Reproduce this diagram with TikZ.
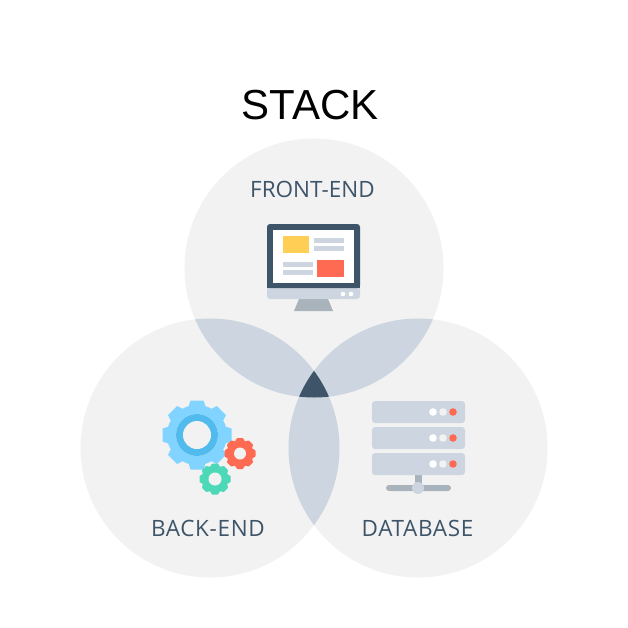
\documentclass[tikz,border=0pt]{standalone}
\usepackage{fontspec}
\setmainfont{Liberation Sans}
\newfontfamily\labelfont{Open Sans}
\definecolor{circlegray}{HTML}{F2F2F2}
\definecolor{lensblue}{HTML}{CDD6E0}
\definecolor{darkslate}{HTML}{3E5569}
\definecolor{standgray}{HTML}{A9B3BB}
\definecolor{alarmred}{HTML}{FF6B52}
\definecolor{notepad}{HTML}{FFCE54}
\definecolor{gearblue}{HTML}{80D4FF}
\definecolor{ringblue}{HTML}{50BBEC}
\definecolor{geargreen}{HTML}{4DD9B8}
\newcommand{\gear}[7]{% x, y, colour, root, outer, tooth half width, hole
  \fill[#3] (#1,#2) circle (#4);
  \foreach \a in {0,45,...,315}
    \fill[#3,shift={(#1,#2)},rotate=\a] (-#6-1.5,0) -- (-#6-1.5,#4) -- (-#6,#5) -- (#6,#5) -- (#6+1.5,#4) -- (#6+1.5,0) -- cycle;
  \fill[circlegray] (#1,#2) circle (#7);
}
\begin{document}
\begin{tikzpicture}[x=1pt,y=-1pt,
    title/.style={font=\fontsize{42}{42}\selectfont,text=black},
    caption/.style={font=\labelfont\fontsize{22.5}{22.5}\selectfont,text=darkslate},
    widecaption/.style={caption,font=\labelfont\fontsize{22.5}{22.5}\selectfont\addfontfeature{LetterSpace=3}},
    bar/.style={fill=lensblue}]
  \useasboundingbox (0,0) rectangle (627,628);

  % the three circles
  \fill[circlegray] (314,268) circle (129.5);
  \fill[circlegray] (210,448) circle (129.5);
  \fill[circlegray] (418,448) circle (129.5);
  \begin{scope}
    \clip (314,268) circle (129.5);
    \fill[lensblue] (210,448) circle (129.5);
    \fill[lensblue] (418,448) circle (129.5);
  \end{scope}
  \begin{scope}
    \clip (210,448) circle (129.5);
    \fill[lensblue] (418,448) circle (129.5);
    \clip (418,448) circle (129.5);
    \fill[darkslate] (314,268) circle (129.5);
  \end{scope}

  \node[title] (stack) at (310,105) {STACK};
  \node[caption] (front) at (312.5,189) {FRONT-END};
  \node[widecaption] (back) at (208,528) {BACK-END};
  \node[widecaption] (data) at (417.5,528) {DATABASE};

  % monitor
  \fill[standgray] (299,299) -- (328,299) -- (333,311) -- (294,311) -- cycle;
  \fill[lensblue,rounded corners=3pt] (267,280) rectangle (360,299);
  \fill[darkslate,rounded corners=3pt] (267,224) rectangle (360,288);
  \fill[darkslate] (267,280) rectangle (360,288);
  \fill[white] (273,230) rectangle (354,283);
  \fill[notepad] (283,236) rectangle (309,253);
  \fill[alarmred] (317,260) rectangle (344,277);
  \fill[bar] (314,238) rectangle (344,243);
  \fill[bar] (314,246) rectangle (344,251);
  \fill[bar] (283,262) rectangle (313,267);
  \fill[bar] (283,270) rectangle (313,275);
  \fill[white] (343,294) circle (2.3);
  \fill[white] (351,294) circle (2.3);

  % gears
  \gear{197}{435}{gearblue}{30}{34.5}{6.5}{21}
  \fill[ringblue] (197,435) circle (21);
  \fill[circlegray] (197,435) circle (14);
  \gear{240}{453.5}{alarmred}{13.5}{15.5}{2.8}{6}
  \gear{215}{479}{geargreen}{13.5}{15.5}{2.8}{6.5}

  % server
  \fill[standgray] (415,475) rectangle (422,486);
  \fill[standgray,rounded corners=3pt] (386,485) rectangle (451,491);
  \fill[lensblue] (418,488) circle (6);
  \foreach \y in {401,427,453} {
    \fill[bar,rounded corners=3pt] (372,\y) rectangle (465,\y+22);
    \fill[white] (433,\y+11) circle (3.8);
    \fill[circlegray] (443,\y+11) circle (3.8);
    \fill[alarmred] (453,\y+11) circle (3.8);
  }
\end{tikzpicture}
\end{document}
